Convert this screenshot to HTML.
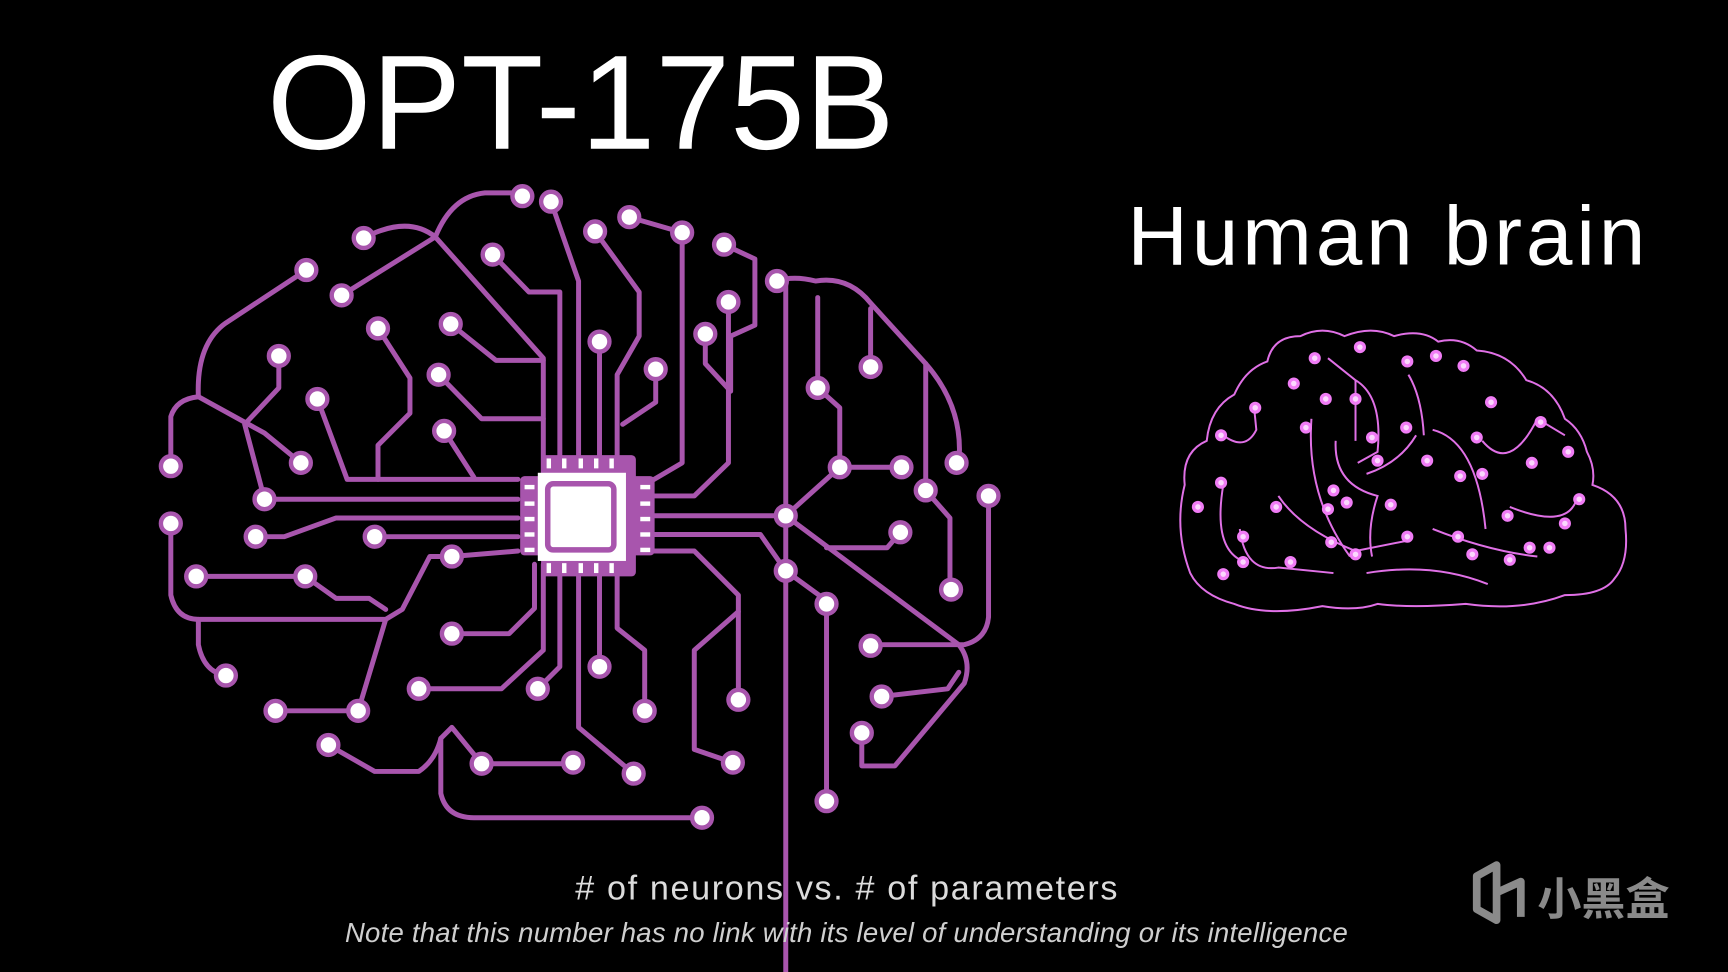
<!DOCTYPE html>
<html><head><meta charset="utf-8"><style>
html,body{margin:0;padding:0;background:#000;width:1728px;height:972px;overflow:hidden}
svg{display:block}
</style></head><body>
<svg width="1728" height="972" viewBox="0 0 1568 882" preserveAspectRatio="none" xmlns="http://www.w3.org/2000/svg">
<rect width="1568" height="882" fill="#000"/>
<text x="527" y="135" text-anchor="middle" font-family="Liberation Sans, sans-serif" font-size="122" fill="#fff">OPT-175B</text>
<text x="1258" y="240" text-anchor="middle" font-family="Liberation Sans, sans-serif" font-size="76" fill="#fff" textLength="470">Human brain</text>

<g fill="none" stroke="#a855ad" stroke-width="4.5" stroke-linejoin="round" stroke-linecap="round">
<path d="M155,423 V378 Q160,362 180,360 Q178,312 205,293 L278,245"/>
<path d="M180,360 L240,393 L273,420"/>
<path d="M253,323 V352 L222,385 L240,453"/>
<path d="M310,268 L395,215 Q410,178 440,175 H475"/>
<path d="M330,216 Q370,195 395,215 L493,325 V430"/>
<path d="M447,231 L480,265 H508 V430"/>
<path d="M500,183 L525,255 V430"/>
<path d="M544,310 V430"/>
<path d="M540,210 L580,265 V305 L560,340 V430"/>
<path d="M595,335 V365 L565,385"/>
<path d="M571,197 L619,211 V420 L585,440"/>
<path d="M657,222 L685,235 V295 L663,305 V355 L640,330 V303"/>
<path d="M661,274 V420 L630,450 H585"/>
<path d="M705,255 Q720,250 740,255 Q770,250 790,275 L840,330 Q875,370 870,420"/>
<path d="M742,270 V352 M790,280 V333"/>
<path d="M713,255 V882"/>
<path d="M742,352 L762,370 V424 H818"/>
<path d="M762,424 L713,468"/>
<path d="M840,330 V445 L862,470 V535"/>
<path d="M897,450 V560 Q895,580 875,585 H790"/>
<path d="M713,468 L870,585 Q882,600 875,620 L812,695 H782 V665"/>
<path d="M585,468 H713"/>
<path d="M240,453 H470 M232,487 H258 L305,470 H470 M340,487 H470 M410,505 L470,500"/>
<path d="M155,475 V540 Q160,562 180,562 H350 L365,553 L390,505 L410,505"/>
<path d="M178,523 H277 L305,543 H335 L350,553"/>
<path d="M343,298 L372,343 V375 L343,404 V435"/>
<path d="M409,294 L450,327 H493"/>
<path d="M398,340 L437,380 H493"/>
<path d="M403,391 L430,433"/>
<path d="M288,362 L315,435 H470"/>
<path d="M350,562 L325,645 H250"/>
<path d="M180,562 V585 Q185,610 205,613"/>
<path d="M298,676 L340,700 H380 Q395,690 400,670 L410,660 L437,693 H520"/>
<path d="M400,670 V720 Q405,742 430,742 H637"/>
<path d="M380,625 H455 L493,590 V512"/>
<path d="M410,575 H462 L485,552 V512"/>
<path d="M488,625 L508,605 V512"/>
<path d="M525,512 V660 L575,702"/>
<path d="M544,512 V605"/>
<path d="M560,512 V570 L585,590 V645"/>
<path d="M575,500 H630 L670,540 V635"/>
<path d="M585,485 H690 L713,518"/>
<path d="M670,555 L630,590 V680 L665,692"/>
<path d="M713,518 L750,545 V727"/>
<path d="M750,497 H805 L817,483"/>
<path d="M800,632 L860,625 L870,610"/>
</g>

<g>
<g fill="#a855ad">
<rect x="472" y="432" width="122" height="72" rx="4"/>
<rect x="491" y="413" width="86" height="110" rx="4"/>
</g>
<g fill="#fff">
<rect x="476" y="440" width="9" height="4"/><rect x="476" y="455" width="9" height="4"/><rect x="476" y="469" width="9" height="4"/><rect x="476" y="483" width="9" height="4"/><rect x="476" y="497" width="9" height="4"/>
<rect x="581" y="440" width="9" height="4"/><rect x="581" y="455" width="9" height="4"/><rect x="581" y="469" width="9" height="4"/><rect x="581" y="483" width="9" height="4"/><rect x="581" y="497" width="9" height="4"/>
<rect x="496" y="416" width="4" height="9"/><rect x="510" y="416" width="4" height="9"/><rect x="525" y="416" width="4" height="9"/><rect x="539" y="416" width="4" height="9"/><rect x="553" y="416" width="4" height="9"/>
<rect x="496" y="511" width="4" height="9"/><rect x="510" y="511" width="4" height="9"/><rect x="525" y="511" width="4" height="9"/><rect x="539" y="511" width="4" height="9"/><rect x="553" y="511" width="4" height="9"/>
<rect x="488" y="429" width="80" height="80"/>
</g>
<rect x="497" y="439" width="60" height="60" rx="5" fill="#fff" stroke="#a855ad" stroke-width="5"/>
</g>

<g fill="#fff" stroke="#a855ad" stroke-width="4">
<circle cx="155" cy="423" r="9"/><circle cx="155" cy="475" r="9"/><circle cx="178" cy="523" r="9"/><circle cx="205" cy="613" r="9"/><circle cx="250" cy="645" r="9"/><circle cx="298" cy="676" r="9"/><circle cx="325" cy="645" r="9"/><circle cx="277" cy="523" r="9"/><circle cx="232" cy="487" r="9"/><circle cx="240" cy="453" r="9"/><circle cx="273" cy="420" r="9"/><circle cx="253" cy="323" r="9"/><circle cx="288" cy="362" r="9"/><circle cx="278" cy="245" r="9"/><circle cx="310" cy="268" r="9"/><circle cx="330" cy="216" r="9"/><circle cx="343" cy="298" r="9"/><circle cx="409" cy="294" r="9"/><circle cx="398" cy="340" r="9"/><circle cx="403" cy="391" r="9"/><circle cx="447" cy="231" r="9"/><circle cx="474" cy="178" r="9"/><circle cx="500" cy="183" r="9"/><circle cx="540" cy="210" r="9"/><circle cx="571" cy="197" r="9"/><circle cx="619" cy="211" r="9"/><circle cx="657" cy="222" r="9"/><circle cx="661" cy="274" r="9"/><circle cx="640" cy="303" r="9"/><circle cx="595" cy="335" r="9"/><circle cx="544" cy="310" r="9"/><circle cx="705" cy="255" r="9"/><circle cx="742" cy="352" r="9"/><circle cx="790" cy="333" r="9"/><circle cx="762" cy="424" r="9"/><circle cx="818" cy="424" r="9"/><circle cx="868" cy="420" r="9"/><circle cx="840" cy="445" r="9"/><circle cx="897" cy="450" r="9"/><circle cx="713" cy="468" r="9"/><circle cx="817" cy="483" r="9"/><circle cx="863" cy="535" r="9"/><circle cx="713" cy="518" r="9"/><circle cx="750" cy="548" r="9"/><circle cx="790" cy="586" r="9"/><circle cx="800" cy="632" r="9"/><circle cx="782" cy="665" r="9"/><circle cx="750" cy="727" r="9"/><circle cx="670" cy="635" r="9"/><circle cx="665" cy="692" r="9"/><circle cx="637" cy="742" r="9"/><circle cx="585" cy="645" r="9"/><circle cx="575" cy="702" r="9"/><circle cx="544" cy="605" r="9"/><circle cx="520" cy="692" r="9"/><circle cx="437" cy="693" r="9"/><circle cx="488" cy="625" r="9"/><circle cx="380" cy="625" r="9"/><circle cx="410" cy="575" r="9"/><circle cx="410" cy="505" r="9"/><circle cx="340" cy="487" r="9"/>
</g>

<g fill="none" stroke="#e070e6" stroke-width="1.8">
<path d="M1080,520 Q1065,480 1075,440 Q1072,410 1095,400 Q1098,370 1120,358 Q1130,335 1150,328 Q1155,305 1180,305 Q1200,295 1220,305 Q1245,295 1265,305 Q1290,298 1305,310 Q1325,305 1340,318 Q1370,320 1385,345 Q1410,352 1420,380 Q1435,390 1440,410 Q1448,425 1445,440 Q1475,450 1475,480 Q1478,510 1465,525 Q1455,540 1420,540 Q1380,555 1330,548 Q1280,552 1250,548 Q1230,555 1200,550 Q1150,560 1120,548 Q1090,540 1080,520 Z"/>
<path d="M1110,395 Q1130,410 1140,390 L1138,370"/>
<path d="M1205,325 L1230,345 Q1230,380 1230,400"/>
<path d="M1230,345 Q1255,360 1250,410 L1232,420"/>
<path d="M1190,380 Q1185,450 1225,505"/>
<path d="M1212,400 Q1210,440 1250,450 Q1240,480 1245,505"/>
<path d="M1278,340 Q1290,360 1292,395"/>
<path d="M1285,395 Q1270,420 1240,430"/>
<path d="M1300,390 Q1340,400 1348,480"/>
<path d="M1345,400 Q1370,430 1395,380 L1420,395"/>
<path d="M1370,460 Q1420,480 1430,455"/>
<path d="M1125,480 Q1130,520 1160,515 L1210,520"/>
<path d="M1160,450 Q1180,480 1230,500 L1280,490"/>
<path d="M1300,480 Q1350,500 1395,505"/>
<path d="M1110,440 Q1100,500 1130,510"/>
<path d="M1240,520 Q1300,510 1350,530"/>
</g>
<g fill="#fbd7fd" stroke="#f07cf5" stroke-width="3">
<circle cx="1193" cy="325" r="4"/><circle cx="1234" cy="315" r="4"/><circle cx="1277" cy="328" r="4"/><circle cx="1303" cy="323" r="4"/><circle cx="1328" cy="332" r="4"/><circle cx="1174" cy="348" r="4"/><circle cx="1139" cy="370" r="4"/><circle cx="1108" cy="395" r="4"/><circle cx="1203" cy="362" r="4"/><circle cx="1230" cy="362" r="4"/><circle cx="1185" cy="388" r="4"/><circle cx="1245" cy="397" r="4"/><circle cx="1276" cy="388" r="4"/><circle cx="1353" cy="365" r="4"/><circle cx="1398" cy="383" r="4"/><circle cx="1340" cy="397" r="4"/><circle cx="1423" cy="410" r="4"/><circle cx="1250" cy="418" r="4"/><circle cx="1295" cy="418" r="4"/><circle cx="1325" cy="432" r="4"/><circle cx="1345" cy="430" r="4"/><circle cx="1390" cy="420" r="4"/><circle cx="1108" cy="438" r="4"/><circle cx="1087" cy="460" r="4"/><circle cx="1158" cy="460" r="4"/><circle cx="1210" cy="445" r="4"/><circle cx="1222" cy="456" r="4"/><circle cx="1205" cy="462" r="4"/><circle cx="1262" cy="458" r="4"/><circle cx="1368" cy="468" r="4"/><circle cx="1433" cy="453" r="4"/><circle cx="1420" cy="475" r="4"/><circle cx="1128" cy="487" r="4"/><circle cx="1208" cy="492" r="4"/><circle cx="1277" cy="487" r="4"/><circle cx="1323" cy="487" r="4"/><circle cx="1388" cy="497" r="4"/><circle cx="1406" cy="497" r="4"/><circle cx="1128" cy="510" r="4"/><circle cx="1171" cy="510" r="4"/><circle cx="1230" cy="503" r="4"/><circle cx="1336" cy="503" r="4"/><circle cx="1370" cy="508" r="4"/><circle cx="1110" cy="521" r="4"/>
</g>

<text x="768" y="816" text-anchor="middle" font-family="Liberation Sans, sans-serif" font-size="31" fill="#dcdcdc" textLength="492">&#35; of neurons vs. &#35; of parameters</text>
<text x="768" y="855" text-anchor="middle" font-family="Liberation Sans, sans-serif" font-size="25" font-style="italic" fill="#cfcfcf" textLength="910">Note that this number has no link with its level of understanding or its intelligence</text>

<g fill="none" stroke="#8a8a8a" stroke-width="7" stroke-linejoin="round">
<path d="M1340,795 L1358,785 V835 L1340,825 Z M1358,810 L1380,800 V832"/>
</g>
<text x="1395" y="830" font-family="Liberation Sans, 'Noto Sans CJK SC', sans-serif" font-size="40" font-weight="bold" fill="#8a8a8a">小黑盒</text>
</svg>
</body></html>
